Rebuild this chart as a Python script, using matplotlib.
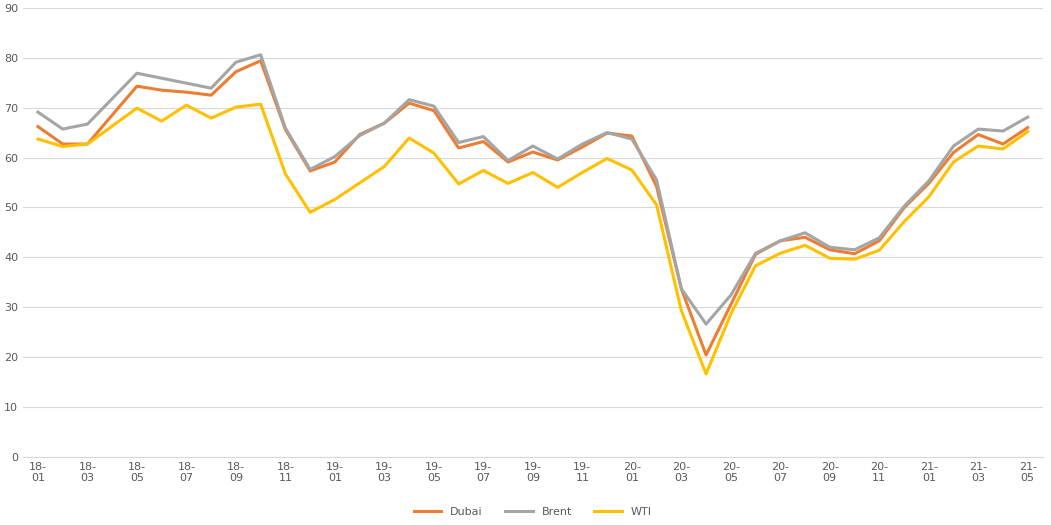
import numpy as np
import matplotlib.pyplot as plt

months = [f"{y}-{m:02d}" for y in (18, 19, 20, 21) for m in range(1, 13)][:41]
dubai = [66.2, 62.7, 62.7, 68.5, 74.3, 73.5, 73.1, 72.5, 77.2, 79.4, 65.6, 57.3, 59.1, 64.6, 66.9,
         70.9, 69.4, 61.9, 63.2, 59.1, 61.1, 59.5, 62.1, 64.9, 64.3, 54.2, 33.7, 20.4, 30.5, 40.6,
         43.3, 44.0, 41.5, 40.7, 43.3, 49.9, 54.8, 61.0, 64.6, 62.7, 66.0]
brent = [69.1, 65.7, 66.7, 71.8, 76.9, 75.9, 74.9, 73.9, 79.1, 80.6, 65.9, 57.6, 60.2, 64.4, 66.9,
         71.6, 70.3, 63.0, 64.2, 59.4, 62.3, 59.7, 62.7, 65.0, 63.7, 55.5, 33.7, 26.6, 32.4, 40.8,
         43.3, 44.9, 42.0, 41.5, 43.9, 50.2, 55.3, 62.3, 65.7, 65.3, 68.1]
wti = [63.7, 62.2, 62.7, 66.3, 69.9, 67.3, 70.5, 67.9, 70.1, 70.7, 56.7, 49.0, 51.6, 54.9, 58.2,
       63.9, 60.9, 54.7, 57.4, 54.8, 57.0, 54.0, 57.0, 59.8, 57.5, 50.5, 29.3, 16.6, 28.6, 38.3,
       40.8, 42.4, 39.8, 39.6, 41.4, 47.1, 52.1, 59.1, 62.3, 61.7, 65.2]

fig, ax = plt.subplots(figsize=(10.51, 5.25), dpi=100)
fig.subplots_adjust(left=0.022, right=0.992, top=0.985, bottom=0.13)
x = np.arange(len(months))
ax.plot(x, dubai, color="#ED7D31", lw=2.2, label="Dubai")
ax.plot(x, brent, color="#A5A5A5", lw=2.2, label="Brent")
ax.plot(x, wti, color="#FFC000", lw=2.2, label="WTI")

ax.set_ylim(0, 90)
ax.set_yticks(range(0, 91, 10))
ax.set_xlim(-0.6, 40.6)
ax.set_xticks(x[::2])
ax.set_xticklabels([m.replace("-", "-\n") for m in months[::2]])
ax.tick_params(labelsize=8, colors="#595959", length=0)
ax.grid(axis="y", color="#D9D9D9", lw=0.8)
ax.set_axisbelow(True)
for s in ("top", "right", "left"):
    ax.spines[s].set_visible(False)
ax.spines["bottom"].set_color("#D9D9D9")
ax.legend(loc="upper center", bbox_to_anchor=(0.5, -0.09), ncol=3, frameon=False,
          fontsize=8, handlelength=2.5, labelcolor="#595959")
fig.savefig("out.png")
